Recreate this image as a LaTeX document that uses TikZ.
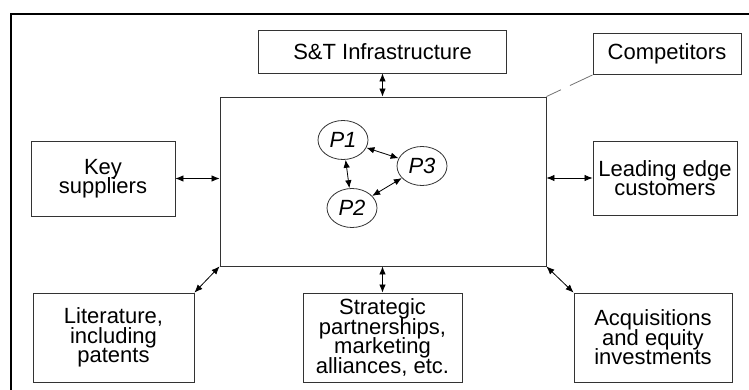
\documentclass[tikz,border=0pt]{standalone}
\usepackage{fontspec}
\setmainfont{Liberation Sans}
\usetikzlibrary{arrows.meta,shapes.geometric}
\newcommand\boxfont{\fontsize{22}{19.5}\selectfont\lineskiplimit=-20pt\relax}
\begin{document}
\begin{tikzpicture}[x=1pt,y=-1pt,
  box/.style={draw=black!80, line width=0.9pt, rectangle, align=center, inner sep=0pt, font=\boxfont},
  pnode/.style={draw=black!80, line width=0.8pt, ellipse, minimum width=50pt, minimum height=39pt, inner sep=0pt, font=\boxfont\itshape},
  link/.style={{Latex[length=8pt,width=6.5pt]}-{Latex[length=8pt,width=6.5pt]}, line width=0.8pt},
  faint/.style={draw=black!55, line width=0.8pt, dash pattern=on 16pt off 10pt on 40pt}]
\useasboundingbox (0,0) rectangle (749,390);
\begin{scope}
  \clip (0,0) rectangle (749,390);
  \draw[line width=2.5pt] (11,14) rectangle (770,410);
\end{scope}

\node[box, minimum width=326pt, minimum height=169pt] (core) at (383,181.5) {};
\node[box, minimum width=248pt, minimum height=43pt] (st) at (382.5,51.5) {S\&T Infrastructure};
\node[box, minimum width=148pt, minimum height=41pt] (comp) at (667,54) {Competitors};
\node[box, minimum width=144pt, minimum height=75pt] (key) at (103,178.5) {Key\\suppliers};
\node[box, minimum width=144pt, minimum height=74pt] (lead) at (665,178) {Leading edge\\customers};
\node[box, minimum width=161pt, minimum height=89pt] (lit) at (113.5,337.5) {Literature,\\including\\patents};
\node[box, minimum width=159pt, minimum height=89pt] (strat) at (382.5,337.5) {Strategic\\partnerships,\\marketing\\alliances, etc.};
\node[box, minimum width=158pt, minimum height=89pt] (acq) at (653,337.5) {Acquisitions\\and equity\\investments};

\node[pnode] (p1) at (343,140) {P1};
\node[pnode] (p3) at (422,166) {P3};
\node[pnode] (p2) at (352,208) {P2};

\draw[link] (st.south) -- (st.south |- core.north);
\draw[link] (strat.north) -- (strat.north |- core.south);
\draw[link] (key.east) -- (key.east -| core.west);
\draw[link] (lead.west) -- (lead.west -| core.east);
\draw[link] (lit.north east) -- (core.south west);
\draw[link] (acq.north west) -- (core.south east);
\draw[faint] (core.north east) -- (comp.south west);

\draw[link] (p1) -- (p3);
\draw[link] (p1) -- (p2);
\draw[link] (p2) -- (p3);
\end{tikzpicture}
\end{document}
